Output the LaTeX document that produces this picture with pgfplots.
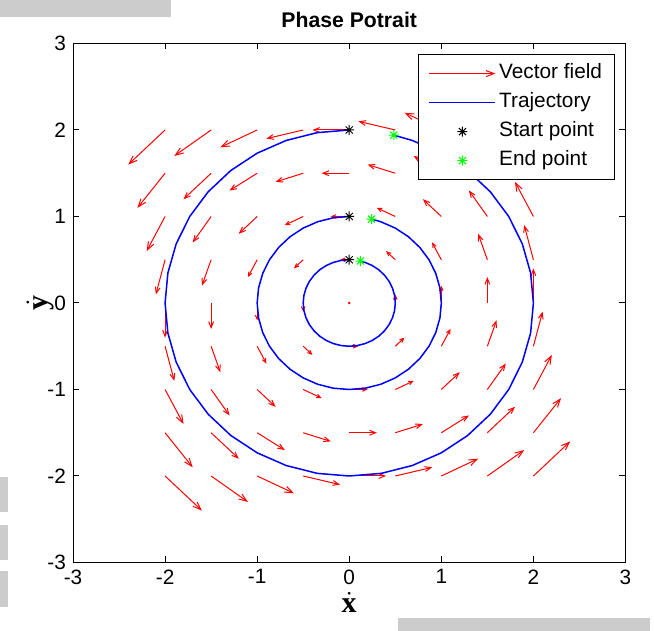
\documentclass[border=0pt]{standalone}
\usepackage{pgfplots}
\pgfplotsset{compat=1.18}
\usepackage{amsmath}
\usepackage{fontspec}
\setmainfont{Liberation Sans}
\newfontfamily\serifb{Liberation Serif}
\usetikzlibrary{arrows.meta}
\definecolor{gbox}{RGB}{204,204,204}
\pgfdeclareplotmark{mstar}{%
  \pgfpathmoveto{\pgfqpoint{-\pgfplotmarksize}{0pt}}\pgfpathlineto{\pgfqpoint{\pgfplotmarksize}{0pt}}%
  \pgfpathmoveto{\pgfqpoint{0pt}{-\pgfplotmarksize}}\pgfpathlineto{\pgfqpoint{0pt}{\pgfplotmarksize}}%
  \pgfpathmoveto{\pgfqpoint{-0.707\pgfplotmarksize}{-0.707\pgfplotmarksize}}\pgfpathlineto{\pgfqpoint{0.707\pgfplotmarksize}{0.707\pgfplotmarksize}}%
  \pgfpathmoveto{\pgfqpoint{-0.707\pgfplotmarksize}{0.707\pgfplotmarksize}}\pgfpathlineto{\pgfqpoint{0.707\pgfplotmarksize}{-0.707\pgfplotmarksize}}%
  \pgfusepathqstroke}
\pgfplotsset{
  arrowlegend/.style={legend image code/.code={\draw[red, line width=0.5pt, -{Straight Barb[length=4pt,width=3pt]}] (0pt,0pt) -- (33pt,0pt);}},
  linelegend/.style={legend image code/.code={\draw[##1] (0pt,0pt) -- (33pt,0pt);}},
  marklegend/.style={legend image code/.code={\draw[##1] plot coordinates {(16.5pt,0pt)};}},
}
% vector field, small arrows
\pgfplotstableread{
x y u v
0.5 0 0 0.1
-0.5 0 0 -0.1
0 0.5 -0.1 0
0 -0.5 0.1 0
0.5 0.5 -0.1 0.1
0.5 -0.5 0.1 0.1
-0.5 0.5 -0.1 -0.1
-0.5 -0.5 0.1 -0.1
1 0 0 0.2
-1 0 0 -0.2
0 1 -0.2 0
0 -1 0.2 0
1 0.5 -0.1 0.2
1 -0.5 0.1 0.2
-1 0.5 -0.1 -0.2
-1 -0.5 0.1 -0.2
0.5 1 -0.2 0.1
0.5 -1 0.2 0.1
-0.5 1 -0.2 -0.1
-0.5 -1 0.2 -0.1
}\fieldA
% medium arrows
\pgfplotstableread{
x y u v
1 1 -0.2 0.2
1 -1 0.2 0.2
-1 1 -0.2 -0.2
-1 -1 0.2 -0.2
1.5 0 0 0.3
-1.5 0 0 -0.3
0 1.5 -0.3 0
0 -1.5 0.3 0
1.5 0.5 -0.1 0.3
1.5 -0.5 0.1 0.3
-1.5 0.5 -0.1 -0.3
-1.5 -0.5 0.1 -0.3
0.5 1.5 -0.3 0.1
0.5 -1.5 0.3 0.1
-0.5 1.5 -0.3 -0.1
-0.5 -1.5 0.3 -0.1
1.5 1 -0.2 0.3
1.5 -1 0.2 0.3
-1.5 1 -0.2 -0.3
-1.5 -1 0.2 -0.3
1 1.5 -0.3 0.2
1 -1.5 0.3 0.2
-1 1.5 -0.3 -0.2
-1 -1.5 0.3 -0.2
2 0 0 0.4
-2 0 0 -0.4
0 2 -0.4 0
0 -2 0.4 0
2 0.5 -0.1 0.4
2 -0.5 0.1 0.4
-2 0.5 -0.1 -0.4
-2 -0.5 0.1 -0.4
0.5 2 -0.4 0.1
0.5 -2 0.4 0.1
-0.5 2 -0.4 -0.1
-0.5 -2 0.4 -0.1
1.5 1.5 -0.3 0.3
1.5 -1.5 0.3 0.3
-1.5 1.5 -0.3 -0.3
-1.5 -1.5 0.3 -0.3
}\fieldB
% large arrows
\pgfplotstableread{
x y u v
2 1 -0.2 0.4
2 -1 0.2 0.4
-2 1 -0.2 -0.4
-2 -1 0.2 -0.4
1 2 -0.4 0.2
1 -2 0.4 0.2
-1 2 -0.4 -0.2
-1 -2 0.4 -0.2
2 1.5 -0.3 0.4
2 -1.5 0.3 0.4
-2 1.5 -0.3 -0.4
-2 -1.5 0.3 -0.4
1.5 2 -0.4 0.3
1.5 -2 0.4 0.3
-1.5 2 -0.4 -0.3
-1.5 -2 0.4 -0.3
2 2 -0.4 0.4
2 -2 0.4 0.4
-2 2 -0.4 -0.4
-2 -2 0.4 -0.4
}\fieldC
\begin{document}
\begin{tikzpicture}
\path[use as bounding box] (0,0) rectangle (327pt,315.5pt);
\fill[gbox] (0pt,307pt) rectangle (85.5pt,315.5pt);
\fill[gbox] (0pt,59.5pt) rectangle (4pt,77pt);
\fill[gbox] (0pt,35.5pt) rectangle (4pt,53pt);
\fill[gbox] (0pt,12pt) rectangle (4pt,30pt);
\fill[gbox] (199pt,0pt) rectangle (325pt,6.5pt);
\begin{axis}[
  at={(36.5pt,34.25pt)}, anchor=south west,
  scale only axis, width=276.25pt, height=259.5pt,
  xmin=-3, xmax=3, ymin=-3, ymax=3,
  xtick={-3,-2,-1,0,1,2,3}, ytick={-3,-2,-1,0,1,2,3},
  /pgf/number format/assume math mode=true,
  ticklabel style={font=\fontsize{10.4}{12}\selectfont},
  major tick length=3pt,
  every tick/.style={black, line width=0.5pt},
  axis line style={line width=0.5pt},
  title={\bfseries Phase Potrait},
  title style={at={(0.5,1)}, anchor=south, inner sep=0pt, yshift=1.5pt, font=\fontsize{10.6}{12}\selectfont},
  xlabel={$\dot{\text{\serifb\bfseries x}}$},
  ylabel={$\dot{\text{\serifb\bfseries y}}$},
  xlabel style={at={([yshift=-20pt]axis description cs:0.5,0)}, anchor=center, inner sep=0pt, font=\fontsize{15}{16}\selectfont},
  ylabel style={at={([xshift=-16.5pt]axis description cs:0,0.5)}, anchor=center, inner sep=0pt, font=\fontsize{15}{16}\selectfont},
  legend cell align=left,
  legend style={at={(axis description cs:1,1)}, anchor=north east, xshift=-5.25pt, yshift=-5.4pt,
    draw=black, line width=0.5pt, fill=white, inner xsep=5pt, inner ysep=2.5pt, row sep=0.7pt,
    font=\fontsize{10.4}{12}\selectfont,
    nodes={inner xsep=1.2pt, inner ysep=2pt, text height=7.6pt, text depth=2.2pt},
    /tikz/every even column/.append style={column sep=0pt}},
]
\addplot[red, line width=0.5pt, quiver={u=\thisrow{u}, v=\thisrow{v}}, -{Straight Barb[length=4pt,width=3pt]}, arrowlegend]
  table[x=x,y=y] {\fieldC};
\addlegendentry{Vector field}
\addplot[red, line width=0.5pt, quiver={u=\thisrow{u}, v=\thisrow{v}}, -{Straight Barb[length=3pt,width=2.4pt]}, forget plot]
  table[x=x,y=y] {\fieldB};
\addplot[red, line width=0.5pt, quiver={u=\thisrow{u}, v=\thisrow{v}}, -{Straight Barb[length=2pt,width=1.8pt]}, forget plot]
  table[x=x,y=y] {\fieldA};
\addplot[red, only marks, mark=*, mark size=0.4pt, forget plot] coordinates {(0,0)};
% trajectories
\addplot[blue, line width=0.75pt, no marks, linelegend] coordinates {
(0,2) (-0.3473,1.9696) (-0.6840,1.8794) (-1,1.7321) (-1.2856,1.5321) (-1.5321,1.2856) (-1.7321,1) (-1.8794,0.6840) (-1.9696,0.3473) (-2,0) (-1.9696,-0.3473) (-1.8794,-0.6840) (-1.7321,-1) (-1.5321,-1.2856) (-1.2856,-1.5321) (-1,-1.7321) (-0.6840,-1.8794) (-0.3473,-1.9696) (0,-2) (0.3473,-1.9696) (0.6840,-1.8794) (1,-1.7321) (1.2856,-1.5321) (1.5321,-1.2856) (1.7321,-1) (1.8794,-0.6840) (1.9696,-0.3473) (2,0) (1.9696,0.3473) (1.8794,0.6840) (1.7321,1) (1.5321,1.2856) (1.2856,1.5321) (1,1.7321) (0.6840,1.8794) (0.4838,1.9406)};
\addlegendentry{Trajectory}
\addplot[blue, line width=0.75pt, no marks, forget plot] coordinates {
(0,1) (-0.1736,0.9848) (-0.3420,0.9397) (-0.5,0.8660) (-0.6428,0.7660) (-0.7660,0.6428) (-0.8660,0.5) (-0.9397,0.3420) (-0.9848,0.1736) (-1,0) (-0.9848,-0.1736) (-0.9397,-0.3420) (-0.8660,-0.5) (-0.7660,-0.6428) (-0.6428,-0.7660) (-0.5,-0.8660) (-0.3420,-0.9397) (-0.1736,-0.9848) (0,-1) (0.1736,-0.9848) (0.3420,-0.9397) (0.5,-0.8660) (0.6428,-0.7660) (0.7660,-0.6428) (0.8660,-0.5) (0.9397,-0.3420) (0.9848,-0.1736) (1,0) (0.9848,0.1736) (0.9397,0.3420) (0.8660,0.5) (0.7660,0.6428) (0.6428,0.7660) (0.5,0.8660) (0.3420,0.9397) (0.2419,0.9703)};
\addplot[blue, line width=0.75pt, no marks, forget plot] coordinates {
(0,0.5) (-0.0868,0.4924) (-0.1710,0.4698) (-0.25,0.4330) (-0.3214,0.3830) (-0.3830,0.3214) (-0.4330,0.25) (-0.4698,0.1710) (-0.4924,0.0868) (-0.5,0) (-0.4924,-0.0868) (-0.4698,-0.1710) (-0.4330,-0.25) (-0.3830,-0.3214) (-0.3214,-0.3830) (-0.25,-0.4330) (-0.1710,-0.4698) (-0.0868,-0.4924) (0,-0.5) (0.0868,-0.4924) (0.1710,-0.4698) (0.25,-0.4330) (0.3214,-0.3830) (0.3830,-0.3214) (0.4330,-0.25) (0.4698,-0.1710) (0.4924,-0.0868) (0.5,0) (0.4924,0.0868) (0.4698,0.1710) (0.4330,0.25) (0.3830,0.3214) (0.3214,0.3830) (0.25,0.4330) (0.1710,0.4698) (0.1210,0.4851)};
% start and end points
\addplot[black, only marks, mark=mstar, mark size=2.5pt, line width=0.5pt, marklegend] coordinates {(0,2) (0,1) (0,0.5)};
\addlegendentry{Start point}
\addplot[green, only marks, mark=mstar, mark size=2.5pt, line width=0.5pt, marklegend] coordinates {(0.4838,1.9406) (0.2419,0.9703) (0.1210,0.4851)};
\addlegendentry{End point}
\end{axis}
\end{tikzpicture}
\end{document}
